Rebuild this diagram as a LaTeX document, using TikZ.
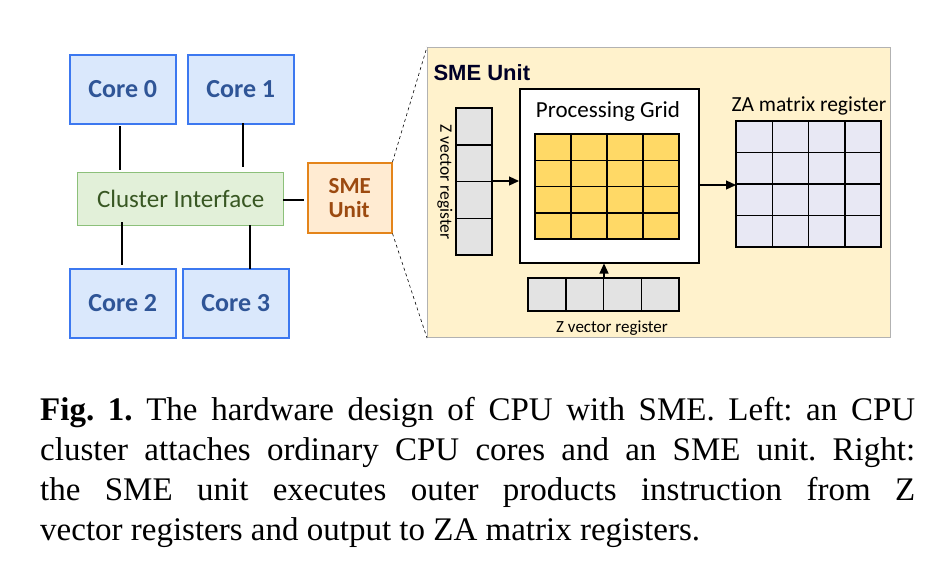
\documentclass[tikz,border=0pt]{standalone}
\usepackage{fontspec}
\setmainfont{Liberation Serif}
\newfontfamily\carl{Carlito}
\usetikzlibrary{arrows.meta}
\definecolor{corefill}{HTML}{DAE8FC}
\definecolor{coredraw}{HTML}{3C78F0}
\definecolor{coretext}{HTML}{2F5597}
\definecolor{clfill}{HTML}{E2F0D9}
\definecolor{cldraw}{HTML}{8CC07A}
\definecolor{cltext}{HTML}{385723}
\definecolor{smefill}{HTML}{FFEBD2}
\definecolor{smedraw}{HTML}{E4841A}
\definecolor{smetext}{HTML}{9C4A10}
\definecolor{bigfill}{HTML}{FFF2CC}
\definecolor{gridfill}{HTML}{FFD966}
\definecolor{zafill}{HTML}{E8E8F4}
\definecolor{regfill}{HTML}{E3E3E3}
\begin{document}
\begin{tikzpicture}[x=1pt,y=-1pt,
  core/.style={draw=coredraw, line width=1.5pt, fill=corefill, text=coretext, font=\carl\bfseries\fontsize{26}{28}\selectfont},
  link/.style={line width=2.8pt},
  arr/.style={line width=1.2pt,-{Triangle[length=10pt,width=9pt]}},
  gcell/.style={draw, line width=1.5pt}]
\useasboundingbox (0,0) rectangle (944,582);
% left
\node[core] (c0) at (69,54) [anchor=north west, minimum width=106pt, minimum height=69pt] {Core 0};
\node[core] (c1) at (187,54) [anchor=north west, minimum width=106pt, minimum height=69pt] {Core 1};
\node[core] (c2) at (69,268) [anchor=north west, minimum width=106pt, minimum height=69pt] {Core 2};
\node[core] (c3) at (182,268) [anchor=north west, minimum width=106pt, minimum height=69pt] {Core 3};
\node[draw=cldraw, line width=1.3pt, fill=clfill, text=cltext, font=\carl\fontsize{25}{27}\selectfont, anchor=north west, minimum width=206pt, minimum height=53pt] (ci) at (77,172) {Cluster Interface};
\node[draw=smedraw, line width=1.5pt, fill=smefill, text=smetext, font=\carl\bfseries\fontsize{23}{24}\selectfont, align=left, anchor=north west, minimum width=84pt, minimum height=70pt] (sme) at (307,162) {SME\\Unit};
\coordinate (a0) at (120,126); \coordinate (b0) at (120,170);
\coordinate (a1) at (243,123); \coordinate (b1) at (243,167);
\coordinate (a2) at (122,222); \coordinate (b2) at (122,265);
\coordinate (a3) at (250,225); \coordinate (b3) at (250,269);
\draw[link] (a0)--(b0); \draw[link] (a1)--(b1); \draw[link] (a2)--(b2); \draw[link] (a3)--(b3);
\draw[link] (283,200) -- (304,200);
% right
\node[draw=gray!60, line width=1pt, fill=bigfill, anchor=north west, minimum width=463pt, minimum height=290pt] (big) at (427,47) {};
\draw[dashed, line width=0.6pt] (sme.north east) -- (big.north west);
\draw[dashed, line width=0.6pt] (sme.south east) -- (big.south west);
\node[font=\fontspec{Liberation Sans}\bfseries\fontsize{22}{23}\selectfont, text=black!85!blue, anchor=west] (smet) at (430,73) {SME Unit};
% vertical Z register
\foreach \i in {0,...,3} \draw[gcell, fill=regfill] (456,108+\i*36.75) rectangle (492,108+\i*36.75+36.75);
\coordinate (zv) at (492,181);
\node[font=\carl\fontsize{17.5}{18}\selectfont, rotate=-90] (zvl) at (445,182) {Z vector register};
% processing grid
\node[draw, line width=1.5pt, fill=white, anchor=north west, minimum width=179pt, minimum height=174pt] (pg) at (519,88) {};
\node[font=\carl\fontsize{23}{24}\selectfont] (pgl) at (608,111) {Processing Grid};
\foreach \i in {0,...,3} \foreach \j in {0,...,3}
  \draw[gcell, fill=gridfill] (535+\i*36,134+\j*26.25) rectangle (535+\i*36+36,134+\j*26.25+26.25);
\draw[arr] (zv) -- (zv -| pg.west);
% bottom Z register
\foreach \i in {0,...,3} \draw[gcell, fill=regfill] (528+\i*37.75,278) rectangle (528+\i*37.75+37.75,311);
\coordinate (zh) at (604,278);
\draw[arr] (zh) -- (zh |- pg.south);
\node[font=\carl\fontsize{17}{18}\selectfont] (zhl) at (612,328) {Z vector register};
% ZA
\foreach \i in {0,...,3} \foreach \j in {0,...,3}
  \draw[gcell, fill=zafill] (736+\i*36.25,121+\j*31.5) rectangle (736+\i*36.25+36.25,121+\j*31.5+31.5);
\node[font=\carl\fontsize{21.5}{22}\selectfont] (zal) at (809,106) {ZA matrix register};
\coordinate (za) at (736,185);
\draw[arr] (pg.east |- za) -- (za);
% caption
\begin{scope}[every node/.style={anchor=base west, inner sep=0pt, font=\frenchspacing\fontsize{33}{40}\selectfont}]
\node (l1) at (40,420) {\makebox[875pt][s]{\textbf{Fig. 1.} The hardware design of CPU with SME. Left: an CPU}};
\node (l2) at (40,460) {\makebox[875pt][s]{cluster attaches ordinary CPU cores and an SME unit. Right:}};
\node (l3) at (40,500) {\makebox[875pt][s]{the SME unit executes outer products instruction from Z}};
\node (l4) at (40,540) {vector registers and output to ZA matrix registers.};
\end{scope}
\end{tikzpicture}
\end{document}
